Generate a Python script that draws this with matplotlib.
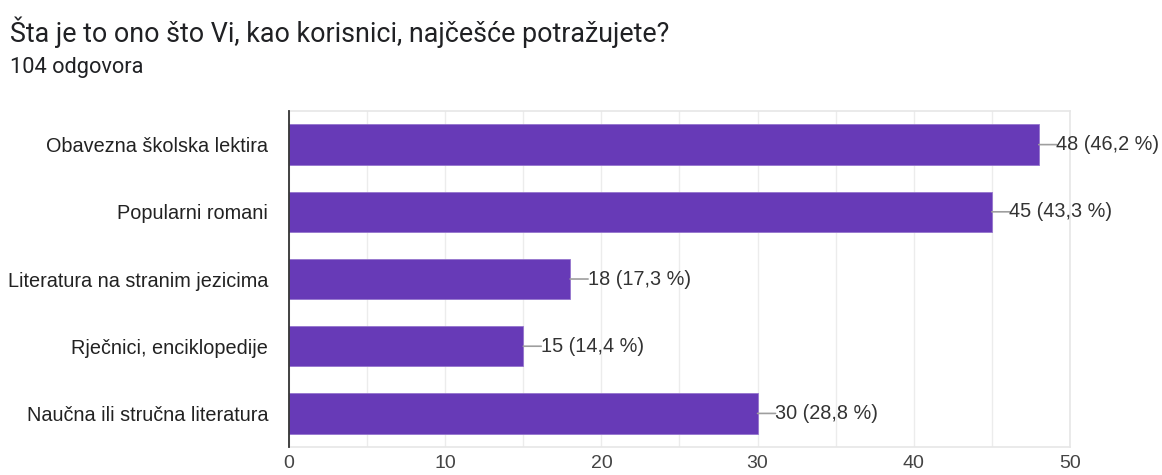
import matplotlib.pyplot as plt
from matplotlib.ticker import MultipleLocator

plt.rcParams['font.family'] = ['Roboto', 'DejaVu Sans']
chart_font = ['Liberation Sans', 'DejaVu Sans']

categories = ['Obavezna školska lektira', 'Popularni romani',
              'Literatura na stranim jezicima', 'Rječnici, enciklopedije',
              'Naučna ili stručna literatura']
counts = [48, 45, 18, 15, 30]
percents = ['46,2', '43,3', '17,3', '14,4', '28,8']
x_ticks = [0, 10, 20, 30, 40, 50]

title = 'Šta je to ono što Vi, kao korisnici, najčešće potražujete?'
subtitle = '104 odgovora'

fig = plt.figure(figsize=(11.62, 4.75), dpi=100)
ax = fig.add_axes([0.2487, 0.0589, 0.9208 - 0.2487, 0.7663 - 0.0589])

ypos = list(range(len(categories)))
ax.barh(ypos, counts, height=0.6, color='#673ab7', edgecolor='#9575cd',
        linewidth=0.6, zorder=3)

# value labels with the little leader line
for y, c, p in zip(ypos, counts, percents):
    ax.annotate('', xy=(c, y), xytext=(c + 1.15, y),
                arrowprops=dict(arrowstyle='-', color='#9e9e9e', lw=1.2,
                                shrinkA=0, shrinkB=0), zorder=4)
    ax.text(c + 1.12, y, f'{c} ({p} %)', va='center', ha='left',
            fontsize=14.3, color='#333333', zorder=4, family=chart_font)

ax.set_xlim(0, 50)
ax.set_ylim(len(categories) - 0.5, -0.5)
ax.set_yticks(ypos)
ax.set_yticklabels(categories, fontsize=14.3, color='#222222',
                   family=chart_font)
ax.set_xticks(x_ticks)
ax.set_xticklabels([str(t) for t in x_ticks], fontsize=14, color='#444444',
                   family=chart_font)
ax.xaxis.set_minor_locator(MultipleLocator(5))
ax.tick_params(axis='y', length=0, pad=15)
ax.tick_params(axis='x', which='both', length=0, pad=5.5)
ax.grid(axis='x', which='both', color='#ececec', lw=1, zorder=0)

for s in ['top', 'right', 'bottom']:
    ax.spines[s].set_color('#e6e6e6')
    ax.spines[s].set_linewidth(1.2)
ax.spines['left'].set_color('#333333')
ax.spines['left'].set_linewidth(1.3)
ax.spines['left'].set_zorder(5)

fig.text(10 / 1162, 1 - 32 / 475, title, fontsize=19.4, color='#202124',
         va='center', ha='left')
fig.text(10 / 1162, 1 - 67 / 475, subtitle, fontsize=15.7, color='#202124',
         va='center', ha='left')

fig.savefig('out.png', dpi=100)
